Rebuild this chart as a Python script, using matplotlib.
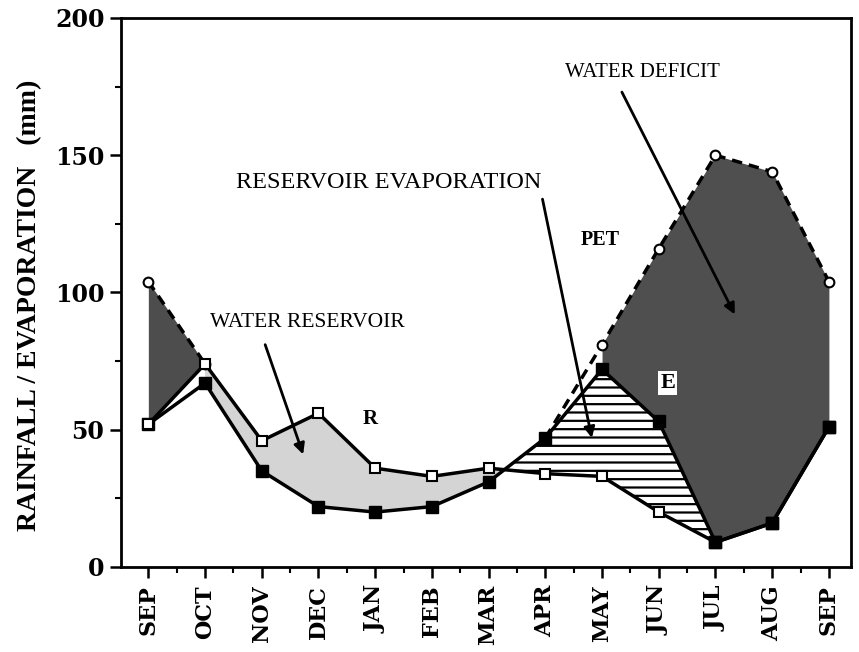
import numpy as np
import matplotlib
matplotlib.use("Agg")
import matplotlib.pyplot as plt
from matplotlib.ticker import MultipleLocator

months = ["SEP", "OCT", "NOV", "DEC", "JAN", "FEB", "MAR",
          "APR", "MAY", "JUN", "JUL", "AUG", "SEP"]
pet = [104, 74, np.nan, np.nan, np.nan, np.nan, np.nan, 47, 81, 116, 150, 144, 104]
rain = [52, 74, 46, 56, 36, 33, 36, 34, 33, 20, 9, 16, 51]
evap = [52, 67, 35, 22, 20, 22, 31, 47, 72, 53, 9, 16, 51]
yticks = [0, 50, 100, 150, 200]

plt.rcParams['font.family'] = ['Liberation Serif', 'DejaVu Serif']
plt.rcParams['hatch.linewidth'] = 1.6

x = np.arange(len(months))
pet_a = np.array(pet, dtype=float)
rain_a = np.array(rain, dtype=float)
evap_a = np.array(evap, dtype=float)

fig = plt.figure(figsize=(8.59, 6.52), dpi=100)
ax = fig.add_axes([0.141, 0.1304, 0.8497, 0.842])

# fills
ax.fill_between(x[:2], pet_a[:2], rain_a[:2], color='#4d4d4d', lw=0, zorder=1)

xf = np.linspace(1, 10, 901)
ri = np.interp(xf, x, rain_a)
ei = np.interp(xf, x, evap_a)
ax.fill_between(xf, ri, ei, where=ri >= ei, color='#d4d4d4', lw=0, zorder=1, interpolate=True)
ax.fill_between(xf, ei, ri, where=ei >= ri, facecolor='white', edgecolor='black',
                hatch='--', lw=0, zorder=1, interpolate=True)

ax.fill_between(x[8:], pet_a[8:], evap_a[8:], color='#4f4f4f', lw=0, zorder=1)

# lines
ax.plot(x, pet_a, ls=(0, (3, 2)), color='black', lw=2.5, marker='o', ms=7,
        mfc='white', mec='black', mew=1.5, zorder=3)
ax.plot(x, evap_a, ls='-', color='black', lw=2.5, marker='s', ms=8,
        mfc='black', mec='black', zorder=4)
ax.plot(x, rain_a, ls='-', color='black', lw=2.5, marker='s', ms=7,
        mfc='white', mec='black', mew=1.5, zorder=5)
ax.plot(x[10:], evap_a[10:], ls='none', marker='s', ms=8, mfc='black', mec='black', zorder=6)

# annotations
arrow = dict(arrowstyle='-|>', lw=2, color='black', mutation_scale=16, shrinkA=0, shrinkB=0)
ax.text(8.72, 180, "WATER DEFICIT", fontsize=15, ha='center', va='center', zorder=7)
ax.annotate("", xy=(10.34, 92), xytext=(8.35, 173), arrowprops=arrow, zorder=7)
ax.text(4.24, 140, "RESERVOIR EVAPORATION", fontsize=17.5, ha='center', va='center', zorder=7)
ax.annotate("", xy=(7.82, 47), xytext=(6.95, 134), arrowprops=arrow, zorder=7)
ax.text(2.8, 89, "WATER RESERVOIR", fontsize=15.5, ha='center', va='center', zorder=7)
ax.annotate("", xy=(2.73, 41), xytext=(2.06, 81), arrowprops=arrow, zorder=7)
ax.text(7.96, 119, "PET", fontsize=14.5, fontweight='bold', ha='center', va='center', zorder=7)
ax.text(3.91, 54, "R", fontsize=15, fontweight='bold', ha='center', va='center', zorder=7)
ax.text(9.16, 67, "E", fontsize=16, fontweight='bold', ha='center', va='center', zorder=7,
        bbox=dict(facecolor='white', edgecolor='none', pad=1.5))

# axes
ax.set_xlim(-0.48, 12.39)
ax.set_ylim(0, 200)
ax.set_xticks(x)
ax.set_xticklabels(months, rotation=90, fontsize=16, fontweight='bold',
                   family=['DejaVu Serif'])
ax.xaxis.set_minor_locator(MultipleLocator(0.5))
ax.set_yticks(yticks)
ax.set_yticklabels([str(v) for v in yticks], fontsize=17, fontweight='bold',
                   family=['DejaVu Serif'])
ax.yaxis.set_minor_locator(MultipleLocator(25))
ax.tick_params(axis='both', which='major', direction='out', length=8, width=1.8)
ax.tick_params(axis='y', which='major', pad=4)
ax.tick_params(axis='x', which='major', pad=5)
ax.tick_params(axis='both', which='minor', direction='out', length=4, width=1.5)
ax.tick_params(top=False, right=False, which='both')
for s in ax.spines.values():
    s.set_linewidth(2)
ax.set_ylabel("RAINFALL / EVAPORATION   (mm)", fontsize=20, fontweight='bold')
ax.yaxis.set_label_coords(-0.108, 0.477)

fig.savefig("out.png", dpi=100)
